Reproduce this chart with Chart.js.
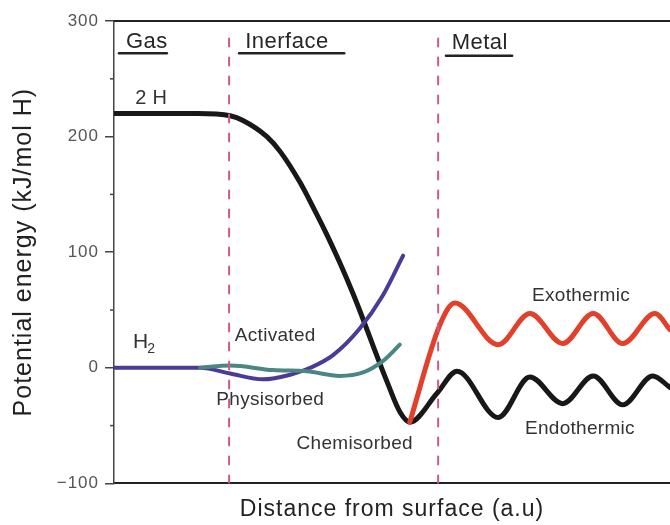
<!DOCTYPE html>
<html>
<head>
<meta charset="utf-8">
<script src="https://cdn.jsdelivr.net/npm/chart.js@4.4.1/dist/chart.umd.min.js"></script>
<style>
  html, body { margin: 0; padding: 0; background: #fff; }
  #wrap { width: 670px; height: 525px; }
</style>
</head>
<body>
<div id="wrap"><canvas id="myChart"></canvas></div>
<script>
// distance in a.u. (0..10), energy in kJ/mol H
const twoH = [[0,220],[1.5,220],[2.09,218],[2.32,214],[2.75,200],[2.99,187],[3.35,160],[3.58,139],[3.83,115],[4.06,91],[4.3,64],[4.48,42],[4.66,19],[4.91,-12],[5.14,-38],[5.32,-47],
              [5.81,-22],[6.17,-3],[6.91,-43],[7.48,-8],[8.07,-31],[8.62,-7],[9.15,-32],[9.69,-7],[10,-17]];
const exothermic = [[5.32,-47],[5.86,37],[6.13,56],[6.91,20],[7.48,47],[8.07,21],[8.62,47],[9.15,21],[9.73,47],[10,33]];
const activated = [[0,0],[1.55,0],[2.09,-5],[2.68,-10],[3.17,-6],[3.53,0],[3.94,11],[4.42,34],[4.84,63],[5.2,97]];
const physisorbed = [[1.55,0],[2.09,2],[2.86,-2],[3.47,-3],[4.06,-7],[4.48,-4],[4.84,6],[5.14,20]];
const boundaries = [2.07, 5.83];
const yTicks = [300, 200, 100, 0, -100];
const yMinorTicks = [250, 150, 50, -50];

const regions = [
  {text: 'Gas', x: 0.59, y: 282, from: 0.09, to: 0.95, uy: 272},
  {text: 'Inerface', x: 3.11, y: 282, from: 2.25, to: 4.14, uy: 272},
  {text: 'Metal', x: 6.58, y: 281, from: 5.97, to: 7.16, uy: 270}
];
const notes = [
  {text: '2 H', x: 0.67, y: 233},
  {text: 'H', sub: '2', x: 0.34, y: 22},
  {text: 'Activated', x: 2.9, y: 28},
  {text: 'Physisorbed', x: 2.81, y: -28},
  {text: 'Chemisorbed', x: 4.33, y: -66},
  {text: 'Exothermic', x: 8.4, y: 62},
  {text: 'Endothermic', x: 8.38, y: -53}
];

const FONT = "'Liberation Sans', Arial, sans-serif";

function pts(arr){
  return arr.map(function(p){ return {x: p[0], y: p[1]}; });
}

const datasets = [];
boundaries.forEach(function(b){
  datasets.push({data: [{x: b, y: -100}, {x: b, y: 294}], borderColor: '#cc5c7e', borderWidth: 2, borderDash: [8, 11], tension: 0});
});
regions.forEach(function(r){
  datasets.push({data: [{x: r.from, y: r.uy}, {x: r.to, y: r.uy}], borderColor: '#222', borderWidth: 2.5, tension: 0});
});
datasets.push({data: pts(physisorbed), borderColor: '#4a8683', borderWidth: 4, cubicInterpolationMode: 'monotone'});
datasets.push({data: pts(activated), borderColor: '#4b3b96', borderWidth: 4, cubicInterpolationMode: 'monotone'});
datasets.push({data: pts(exothermic), borderColor: '#e2402b', borderWidth: 5, cubicInterpolationMode: 'monotone'});
datasets.push({data: pts(twoH), borderColor: '#181818', borderWidth: 5, cubicInterpolationMode: 'monotone'});

// the figure's lettering is wide, so space it out a little
const spacingPlugin = {
  id: 'spacing',
  beforeDraw: function(chart){ chart.ctx.letterSpacing = '1px'; },
  afterDraw: function(chart){ chart.ctx.letterSpacing = '0px'; }
};

const labelsPlugin = {
  id: 'labels',
  afterDraw: function(chart){
    const ctx = chart.ctx;
    const xs = chart.scales.x, ys = chart.scales.y;
    const area = chart.chartArea;
    ctx.save();
    // top frame line
    ctx.strokeStyle = '#222';
    ctx.lineWidth = 2;
    ctx.beginPath();
    ctx.moveTo(area.left, ys.getPixelForValue(300));
    ctx.lineTo(area.right, ys.getPixelForValue(300));
    ctx.stroke();
    // minor ticks
    ctx.strokeStyle = '#444';
    ctx.lineWidth = 1.5;
    yMinorTicks.forEach(function(v){
      const py = ys.getPixelForValue(v);
      ctx.beginPath();
      ctx.moveTo(area.left - 4, py);
      ctx.lineTo(area.left, py);
      ctx.stroke();
    });
    ctx.letterSpacing = '0.5px';
    ctx.textAlign = 'center';
    ctx.textBaseline = 'middle';
    ctx.fillStyle = '#262626';
    ctx.font = '22px ' + FONT;
    regions.forEach(function(r){
      ctx.fillText(r.text, xs.getPixelForValue(r.x), ys.getPixelForValue(r.y));
    });
    ctx.fillStyle = '#333';
    ctx.letterSpacing = '0.3px';
    notes.forEach(function(n){
      const px = xs.getPixelForValue(n.x), py = ys.getPixelForValue(n.y);
      if (n.sub) {
        ctx.font = '21px ' + FONT;
        ctx.textAlign = 'left';
        ctx.fillText(n.text, px, py);
        const w = ctx.measureText(n.text).width;
        ctx.font = '14px ' + FONT;
        ctx.fillText(n.sub, px + w - 1, py + 7);
        ctx.textAlign = 'center';
      } else {
        ctx.font = (n.text === '2 H' ? 20 : 19) + 'px ' + FONT;
        ctx.fillText(n.text, px, py);
      }
    });
    ctx.restore();
  }
};

new Chart(document.getElementById('myChart'), {
  type: 'line',
  data: {datasets: datasets},
  options: {
    responsive: true,
    maintainAspectRatio: false,
    animation: false,
    layout: {padding: {top: 21, left: 0, right: 0, bottom: 0}},
    elements: {point: {radius: 0}, line: {borderCapStyle: 'round'}},
    plugins: {legend: {display: false}, tooltip: {enabled: false}},
    scales: {
      x: {
        type: 'linear', min: 0, max: 10,
        ticks: {display: false},
        grid: {display: false, drawTicks: false},
        border: {display: true, color: '#222', width: 2},
        title: {display: true, text: 'Distance from surface (a.u)', color: '#222',
                font: {family: FONT, size: 23}, padding: {top: 12, bottom: 2}}
      },
      y: {
        min: -100, max: 300,
        afterFit: function(scale){ scale.width = 114; },
        afterBuildTicks: function(scale){ scale.ticks = yTicks.map(function(v){ return {value: v}; }); },
        ticks: {
          color: '#555', padding: 6,
          font: {family: FONT, size: 17},
          callback: function(v){ return v < 0 ? '\u2212' + Math.abs(v) : String(v); }
        },
        grid: {drawOnChartArea: false, tickLength: 9, color: '#444', lineWidth: 1.5},
        border: {display: true, color: '#444', width: 1.5},
        title: {display: true, text: 'Potential energy (kJ/mol H)', color: '#222',
                font: {family: FONT, size: 25}, padding: {top: 9, bottom: 0}}
      }
    }
  },
  plugins: [spacingPlugin, labelsPlugin]
});
</script>
</body>
</html>
